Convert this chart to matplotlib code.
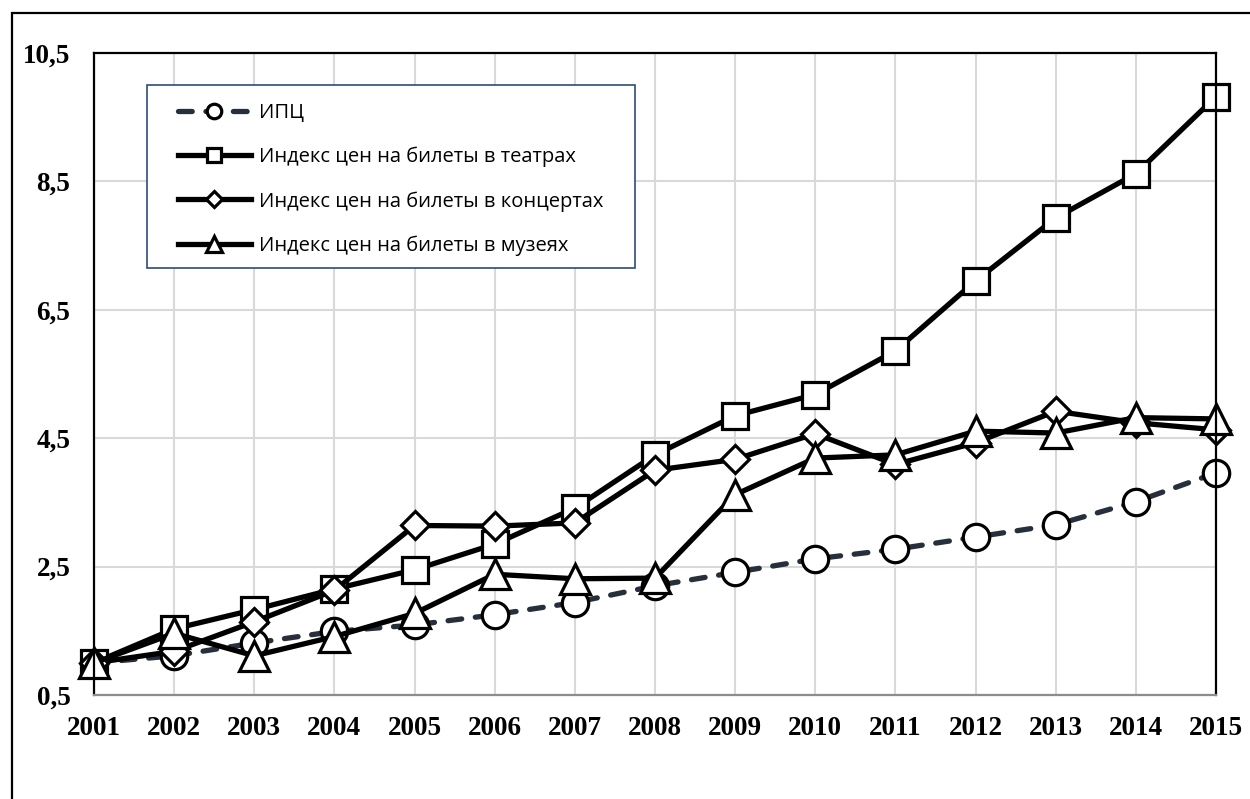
import matplotlib
matplotlib.use("Agg")
import matplotlib.pyplot as plt
from matplotlib.patches import Rectangle

years = list(range(2001, 2016))
cpi = [1.0, 1.11, 1.31, 1.49, 1.59, 1.75, 1.94, 2.2, 2.41, 2.62, 2.77, 2.96, 3.15, 3.51, 3.96]
theatres = [1.0, 1.53, 1.83, 2.15, 2.45, 2.85, 3.41, 4.24, 4.85, 5.18, 5.86, 6.95, 7.93, 8.62, 9.82]
concerts = [1.0, 1.18, 1.64, 2.13, 3.14, 3.13, 3.18, 4.0, 4.17, 4.57, 4.09, 4.43, 4.92, 4.74, 4.63]
museums = [1.0, 1.46, 1.11, 1.41, 1.77, 2.38, 2.31, 2.32, 3.62, 4.19, 4.24, 4.61, 4.58, 4.82, 4.8]

labels = ["ИПЦ",
          "Индекс цен на билеты в театрах",
          "Индекс цен на билеты в концертах",
          "Индекс цен на билеты в музеях"]
y_ticks = [0.5, 2.5, 4.5, 6.5, 8.5, 10.5]
y_tick_labels = ["0,5", "2,5", "4,5", "6,5", "8,5", "10,5"]

fig = plt.figure(figsize=(12.5, 7.99), dpi=100)
ax = fig.add_axes([0.0752, 0.1302, 0.8976, 0.8035])

# outer frame, cut off at right and bottom like the original
fig.patches.append(Rectangle((12 / 1250, -0.2), 1.2, 0.2 + 1 - 13 / 799,
                             transform=fig.transFigure, fill=False,
                             edgecolor="black", linewidth=1.6))

mk = dict(markerfacecolor="white", markeredgecolor="black", markeredgewidth=2.3)
ax.plot(years, cpi, color="#262f3b", linewidth=3.8, linestyle=(0, (2.6, 2.6)),
        dash_capstyle="round", marker="o", markersize=19, label=labels[0], **mk)
ax.plot(years, theatres, color="black", linewidth=3.8, marker="s",
        markersize=19, label=labels[1], **mk)
ax.plot(years, concerts, color="black", linewidth=3.8, marker="D",
        markersize=14, label=labels[2], **mk)
ax.plot(years, museums, color="black", linewidth=3.8, marker="^",
        markersize=21, label=labels[3], **mk)

ax.set_xlim(2001, 2015)
ax.set_ylim(0.5, 10.5)
ax.set_xticks(years)
ax.set_xticklabels([str(y) for y in years])
ax.set_yticks(y_ticks)
ax.set_yticklabels(y_tick_labels)
for lab in ax.get_xticklabels() + ax.get_yticklabels():
    lab.set_fontfamily("Liberation Serif")
    lab.set_fontweight("bold")
    lab.set_fontsize(19.5)
ax.tick_params(axis="both", length=0)
ax.tick_params(axis="y", pad=17)
ax.tick_params(axis="x", pad=15)

ax.grid(True, color="#d9d9d9", linewidth=1.5)
ax.set_axisbelow(True)
for side in ["left", "top", "right"]:
    ax.spines[side].set_color("black")
    ax.spines[side].set_linewidth(1.6)
ax.spines["bottom"].set_color("#8c8c8c")
ax.spines["bottom"].set_linewidth(1.6)
for line in ax.lines:
    line.set_clip_on(False)

# legend box drawn separately so the padding matches
ax.add_patch(Rectangle((0.0472, 0.665), 0.435, 0.285, transform=ax.transAxes,
                       facecolor="white", edgecolor="#2f4a7a", linewidth=1.2,
                       zorder=4))
leg = ax.legend(loc="upper left", bbox_to_anchor=(0.0749, 0.922),
                borderaxespad=0, borderpad=0, frameon=False,
                prop={"family": "Open Sans", "size": 14.5},
                markerscale=0.55, handlelength=3.6, handletextpad=0.4,
                labelspacing=1.18)
leg.set_zorder(5)

plt.savefig("out.png", dpi=100)
